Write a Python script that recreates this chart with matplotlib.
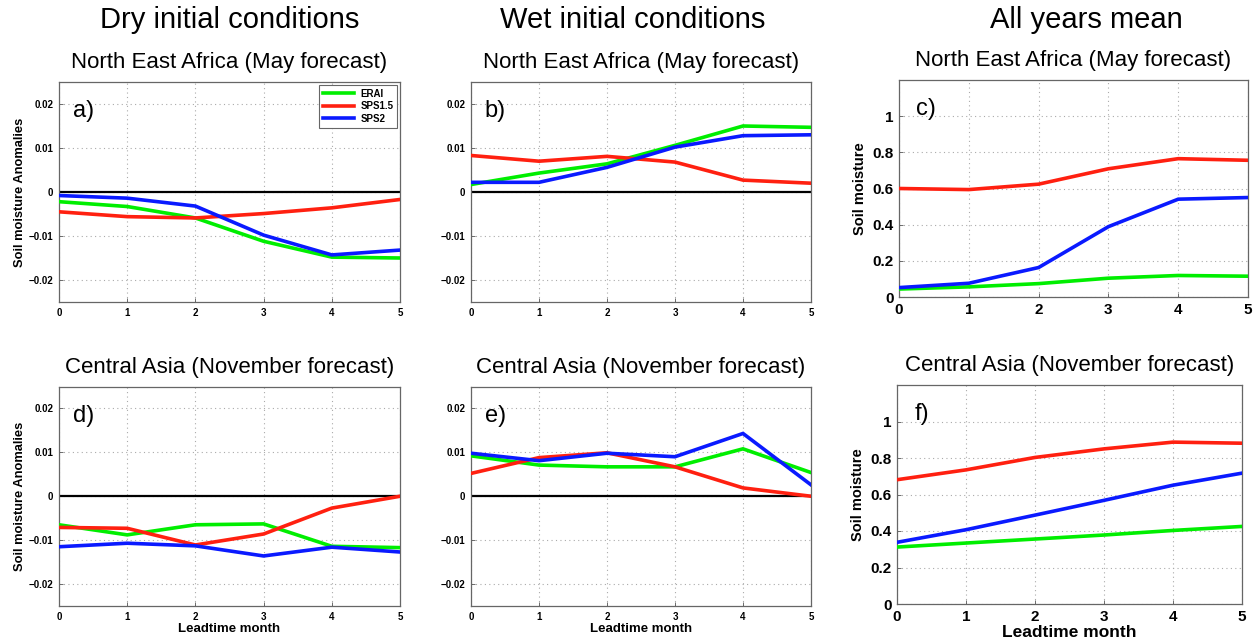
import matplotlib
matplotlib.use("Agg")
import matplotlib.pyplot as plt
from matplotlib.ticker import FixedLocator

plt.rcParams['font.family'] = ['Liberation Sans', 'DejaVu Sans']

leadtime = [0, 1, 2, 3, 4, 5]
series_names = ["ERAI", "SPS1.5", "SPS2"]
series_colors = ["#00ee00", "#ff2010", "#0a1aff"]

# a) Dry, North East Africa (May)
a_erai = [-0.0022, -0.0033, -0.0059, -0.0112, -0.0148, -0.0150]
a_sps15 = [-0.0045, -0.0056, -0.0059, -0.0049, -0.0036, -0.0017]
a_sps2 = [-0.0008, -0.0014, -0.0032, -0.0098, -0.0143, -0.0132]
# b) Wet, North East Africa (May)
b_erai = [0.0017, 0.0043, 0.0064, 0.0106, 0.0150, 0.0147]
b_sps15 = [0.0083, 0.0070, 0.0081, 0.0068, 0.0027, 0.0020]
b_sps2 = [0.0022, 0.0022, 0.0056, 0.0102, 0.0128, 0.0130]
# c) All years mean, North East Africa (May)
c_erai = [0.044, 0.056, 0.074, 0.104, 0.119, 0.115]
c_sps15 = [0.600, 0.594, 0.624, 0.709, 0.765, 0.756]
c_sps2 = [0.052, 0.076, 0.163, 0.389, 0.541, 0.550]
# d) Dry, Central Asia (November)
d_erai = [-0.0065, -0.0088, -0.0065, -0.0063, -0.0114, -0.0117]
d_sps15 = [-0.0071, -0.0073, -0.0111, -0.0086, -0.0027, 0.0000]
d_sps2 = [-0.0115, -0.0107, -0.0113, -0.0136, -0.0116, -0.0127]
# e) Wet, Central Asia (November)
e_erai = [0.0092, 0.0071, 0.0067, 0.0067, 0.0108, 0.0054]
e_sps15 = [0.0052, 0.0088, 0.0099, 0.0067, 0.0019, 0.0000]
e_sps2 = [0.0098, 0.0081, 0.0098, 0.0090, 0.0143, 0.0026]
# f) All years mean, Central Asia (November)
f_erai = [0.312, 0.334, 0.356, 0.378, 0.403, 0.425]
f_sps15 = [0.681, 0.735, 0.803, 0.850, 0.887, 0.881]
f_sps2 = [0.338, 0.407, 0.487, 0.568, 0.651, 0.717]

column_titles = ["Dry initial conditions", "Wet initial conditions", "All years mean"]
row_titles = ["North East Africa (May forecast)", "Central Asia (November forecast)"]
panel_letters = ["a)", "b)", "c)", "d)", "e)", "f)"]
anom_ticks = [-0.02, -0.01, 0, 0.01, 0.02]
anom_ticklabels = ["\u22120.02", "\u22120.01", "0", "0.01", "0.02"]
sm_ticks = [0, 0.2, 0.4, 0.6, 0.8, 1]
sm_ticklabels = ["0", "0.2", "0.4", "0.6", "0.8", "1"]

W, H = 1259, 639
fig = plt.figure(figsize=(W / 100, H / 100), dpi=100)

def box(l, r, t, b):
    return [l / W, (H - b) / H, (r - l) / W, (b - t) / H]

positions = [
    box(59, 400, 82, 302), box(471, 811, 82, 302), box(899, 1248, 80, 297),
    box(59, 400, 386.5, 606), box(471, 811, 386.5, 606), box(897, 1242, 385, 604),
]
data = [
    (a_erai, a_sps15, a_sps2), (b_erai, b_sps15, b_sps2), (c_erai, c_sps15, c_sps2),
    (d_erai, d_sps15, d_sps2), (e_erai, e_sps15, e_sps2), (f_erai, f_sps15, f_sps2),
]

for i, (pos, series) in enumerate(zip(positions, data)):
    ax = fig.add_axes(pos)
    col = i % 3
    row = i // 3
    anomaly = col < 2
    for vals, name, c in zip(series, series_names, series_colors):
        ax.plot(leadtime, vals, color=c, lw=2.6, label=name, solid_joinstyle='miter', zorder=3)
    ax.set_xlim(0, 5)
    ax.xaxis.set_major_locator(FixedLocator(leadtime))
    tfs = 7 if anomaly else 11
    ax.set_xticklabels([str(v) for v in leadtime], fontweight='bold', fontsize=tfs)
    if anomaly:
        ax.axhline(0, color='black', lw=1.6, zorder=2)
        ax.set_ylim(-0.025, 0.025)
        ax.set_yticks(anom_ticks)
        ax.set_yticklabels(anom_ticklabels, fontweight='bold', fontsize=tfs)
    else:
        ax.set_ylim(0, 1.2)
        ax.set_yticks(sm_ticks)
        ax.set_yticklabels(sm_ticklabels, fontweight='bold', fontsize=tfs)
    ax.grid(True, linestyle=(0, (1, 3)), color='#aaaaaa', lw=0.8)
    ax.tick_params(direction='in', length=3, width=0.6, color='#555555', pad=4)
    for s in ax.spines.values():
        s.set_color('#666666')
        s.set_linewidth(0.9)
    ax.set_title(row_titles[row], fontsize=16, pad=10)
    lx = 0.04 if anomaly else 0.05
    ax.text(lx, 0.84, panel_letters[i], transform=ax.transAxes, fontsize=17)
    if col == 0:
        ax.set_ylabel("Soil moisture Anomalies", fontweight='bold', fontsize=9.3, labelpad=2)
    elif col == 2:
        ax.set_ylabel("Soil moisture", fontweight='bold', fontsize=10.5, labelpad=4)
    if row == 1:
        if col == 2:
            ax.set_xlabel("Leadtime month", fontweight='bold', fontsize=12.5, labelpad=1)
        else:
            ax.set_xlabel("Leadtime month", fontweight='bold', fontsize=9.5, labelpad=1)
    if i == 0:
        leg = ax.legend(loc='upper right', prop={'weight': 'bold', 'size': 7},
                        handlelength=3.2, borderaxespad=0.3, fancybox=False,
                        edgecolor='#666666', framealpha=1, labelspacing=0.25,
                        handletextpad=0.6)
        leg.get_frame().set_linewidth(0.8)

fig.text(230 / W, 1 - 20 / H, column_titles[0], fontsize=21, ha='center', va='center')
fig.text(633 / W, 1 - 20 / H, column_titles[1], fontsize=21, ha='center', va='center')
fig.text(1086 / W, 1 - 20 / H, column_titles[2], fontsize=21, ha='center', va='center')

fig.savefig("out.png", dpi=100)
